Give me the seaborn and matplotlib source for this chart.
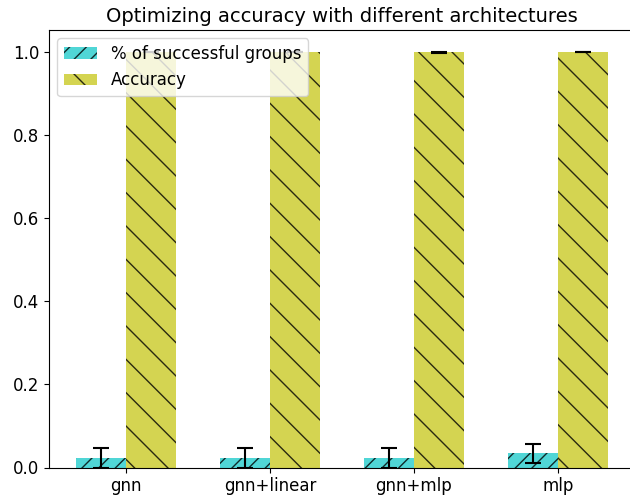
import numpy as np
import pandas as pd
import matplotlib
matplotlib.use("Agg")
import matplotlib.pyplot as plt
import seaborn as sns

# data
architectures = ["gnn", "gnn+linear", "gnn+mlp", "mlp"]
success_mean = [0.023, 0.023, 0.023, 0.034]
success_err = [0.023, 0.023, 0.023, 0.022]
accuracy_mean = [1.0, 1.0, 1.0, 1.0]
accuracy_err = [0.0, 0.0, 0.002, 0.0]
series_names = ["% of successful groups", "Accuracy"]

plt.rcParams["hatch.color"] = "black"
plt.rcParams["hatch.linewidth"] = 1.0
plt.rcParams["font.size"] = 12

df = pd.DataFrame({
    "arch": architectures * 2,
    "value": success_mean + accuracy_mean,
    "metric": [series_names[0]] * 4 + [series_names[1]] * 4,
})

fig = plt.figure(figsize=(6.3, 4.99), dpi=100)
# right edge of the axes sits just past the picture, as in the cropped original
ax = fig.add_axes([49 / 630, 31.5 / 499, (635 - 49) / 630, 437.5 / 499])

sns.barplot(data=df, x="arch", y="value", hue="metric", order=architectures,
            palette=["#24cccc", "#caca26"], saturation=1, alpha=0.8,
            errorbar=None, width=0.7, edgecolor="black", linewidth=0, ax=ax)

hatches = ["//", "\\"]
for cont, h in zip(ax.containers, hatches):
    for bar in cont:
        bar.set_hatch(h)

x = np.arange(len(architectures))
ax.errorbar(x - 0.175, success_mean, yerr=success_err, fmt="none",
            ecolor="black", elinewidth=1.5, capsize=5.5, capthick=1.5)
ax.errorbar(x + 0.175, accuracy_mean, yerr=accuracy_err, fmt="none",
            ecolor="black", elinewidth=1.5, capsize=5.5, capthick=1.5)

ax.set_ylim(0, 1.054)
ax.set_xlim(-0.535, 3.535)
ax.set_xlabel("")
ax.set_ylabel("")
ax.set_title("Optimizing accuracy with different architectures", fontsize=14)
ax.legend(ax.containers[:2], series_names, loc="upper left")

fig.savefig("out.png", dpi=100)
